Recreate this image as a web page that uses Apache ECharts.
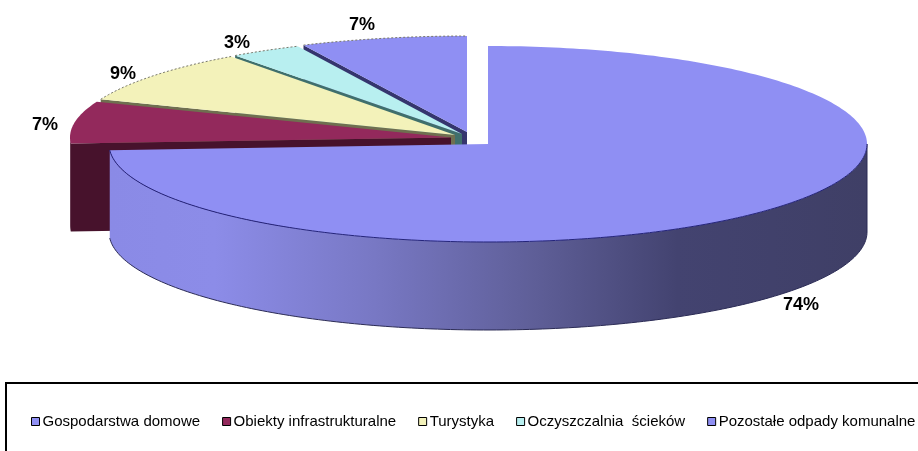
<!DOCTYPE html>
<html>
<head>
<meta charset="utf-8">
<style>
  html, body { margin: 0; padding: 0; background: #fff; }
  #chart { width: 918px; height: 451px; }
</style>
<script src="https://cdn.jsdelivr.net/npm/echarts@6/dist/echarts.min.js"></script>
</head>
<body>
<div id="chart"></div>
<script>
// values as printed on the chart, clockwise from 12 o'clock
var categories = ['Gospodarstwa domowe', 'Obiekty infrastrukturalne', 'Turystyka', 'Oczyszczalnia  ścieków', 'Pozostałe odpady komunalne'];
var shares = [74, 7, 9, 3, 7];

// look
var topColors = ['#8f8ff3', '#93295c', '#f3f2ba', '#b8eff0', '#8f8ff3'];
var faceColors = ['#3f3f68', '#47122c', '#6f6f50', '#3f6f6c', '#35356e'];

// layout: every slice is pulled out of the pie by its own amount
var boxes = [
    {cx: 488, cy: 144, rx: 379, ry: 98},
    {cx: 451, cy: 137.5, rx: 381, ry: 97},
    {cx: 455, cy: 135, rx: 381, ry: 97},
    {cx: 462, cy: 134, rx: 386, ry: 97},
    {cx: 467, cy: 132, rx: 384, ry: 96}
];
var depth = 88;
var labelAt = [[801, 305], [45, 125], [123, 74], [237, 43], [362, 25]];

var total = shares.reduce(function (a, b) { return a + b; }, 0);

function rimPoint(box, deg, drop) {
    var a = deg * Math.PI / 180;
    return [box.cx + box.rx * Math.sin(a), box.cy - box.ry * Math.cos(a) + (drop || 0)];
}

function arc(box, from, to, drop) {
    var pts = [];
    var n = Math.max(2, Math.ceil(Math.abs(to - from)));
    for (var i = 0; i <= n; i++) {
        pts.push(rimPoint(box, from + (to - from) * i / n, drop));
    }
    return pts;
}

function makeItem(idx) {
    return function (params, api) {
        var box = boxes[idx];
        var start = 0;
        for (var i = 0; i < idx; i++) start += shares[i];
        start = start / total * 360;
        var end = start + api.value(0) / total * 360;
        var apex = [box.cx, box.cy];
        var kids = [];

        // cut face on the start edge, the next slice in front hides most of it
        if (idx > 0) {
            var r = rimPoint(box, start);
            kids.push({
                type: 'polygon',
                shape: {points: [apex, r, [r[0], r[1] + depth], [apex[0], apex[1] + depth]]},
                style: {fill: faceColors[idx]}
            });
        }

        // outer wall, only the part turned to the viewer
        var wallFrom = Math.max(start, 90);
        var wallTo = Math.min(end, 270);
        if (wallTo > wallFrom) {
            var upper = arc(box, wallFrom, wallTo, 0);
            var lower = arc(box, wallFrom, wallTo, depth);
            var fill = faceColors[idx];
            if (idx === 0) {
                fill = new echarts.graphic.LinearGradient(box.cx - box.rx, 0, box.cx + box.rx, 0, [
                    {offset: 0, color: '#8a8ae6'},
                    {offset: 0.14, color: '#8c8ce8'},
                    {offset: 0.35, color: '#7878c4'},
                    {offset: 0.55, color: '#60609a'},
                    {offset: 0.75, color: '#434370'},
                    {offset: 1, color: '#3f3f66'}
                ], true);
            }
            kids.push({
                type: 'polygon',
                shape: {points: upper.concat(lower.slice().reverse())},
                style: {fill: fill}
            });
            if (idx === 0) {
                kids.push({
                    type: 'polyline',
                    shape: {points: lower},
                    style: {fill: 'none', stroke: '#2b2b55', lineWidth: 1}
                });
                kids.push({
                    type: 'polyline',
                    shape: {points: [rimPoint(box, 90), rimPoint(box, 90, depth)]},
                    style: {fill: 'none', stroke: '#2b2b55', lineWidth: 1}
                });
            }
        }

        // top face
        kids.push({
            type: 'polygon',
            shape: {points: [apex].concat(arc(box, start, end, 0))},
            style: {fill: topColors[idx]}
        });
        if (idx === 0) {
            kids.push({
                type: 'polyline',
                shape: {points: arc(box, 90, end, 0)},
                style: {fill: 'none', stroke: '#23237a', lineWidth: 1}
            });
        } else if (idx > 1) {
            kids.push({
                type: 'polyline',
                shape: {points: arc(box, start, end, 0)},
                style: {fill: 'none', stroke: '#77776a', lineWidth: 1, lineDash: [2, 2]}
            });
        }

        kids.push({
            type: 'text',
            z2: 50,
            style: {
                text: api.value(0) + '%',
                x: labelAt[idx][0],
                y: labelAt[idx][1],
                align: 'center',
                verticalAlign: 'middle',
                font: 'bold 18px "Liberation Sans", Arial, sans-serif',
                fill: '#000'
            }
        });
        return {type: 'group', children: kids};
    };
}

// back slices first, the big one last so it sits in front
var drawOrder = [4, 3, 2, 1, 0];

var chart = echarts.init(document.getElementById('chart'));
chart.setOption({
    animation: false,
    backgroundColor: '#fff',
    legend: {
        data: categories,
        left: 26,
        top: 409,
        width: 1000,
        orient: 'horizontal',
        itemGap: 22,
        itemWidth: 8,
        itemHeight: 8,
        icon: 'rect',
        itemStyle: {borderColor: '#000', borderWidth: 1},
        selectedMode: false,
        textStyle: {fontFamily: '"Liberation Sans", Arial, sans-serif', fontSize: 15, color: '#000', padding: [0, 0, 0, -2]}
    },
    graphic: [{
        type: 'rect',
        z: -1,
        shape: {x: 6, y: 383, width: 1000, height: 200},
        style: {fill: 'none', stroke: '#000', lineWidth: 2}
    }],
    series: drawOrder.map(function (idx) {
        return {
            type: 'custom',
            name: categories[idx],
            coordinateSystem: 'none',
            renderItem: makeItem(idx),
            itemStyle: {color: topColors[idx]},
            data: [[shares[idx]]]
        };
    })
});
</script>
</body>
</html>
